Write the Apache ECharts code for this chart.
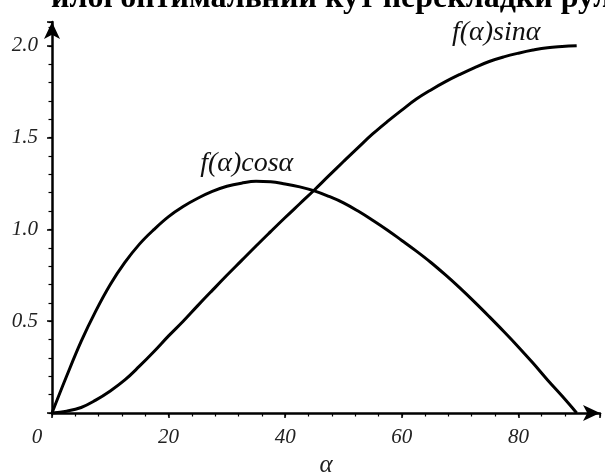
<!DOCTYPE html>
<html>
<head>
<meta charset="utf-8">
<script src="https://cdn.jsdelivr.net/npm/echarts@6/dist/echarts.min.js"></script>
<style>
  html, body { margin: 0; padding: 0; background: #fff; }
  #chart { width: 605px; height: 474px; }
</style>
</head>
<body>
<div id="chart"></div>
<script>
// α in degrees, read every 2.5°
const alpha = [0, 2.5, 5, 7.5, 10, 12.5, 15, 17.5, 20, 22.5, 25, 27.5, 30, 32.5, 35, 37.5, 40, 42.5, 45,
  47.5, 50, 52.5, 55, 57.5, 60, 62.5, 65, 67.5, 70, 72.5, 75, 77.5, 80, 82.5, 85, 87.5, 90];
const cosVals = [0, 0.20, 0.39, 0.555, 0.70, 0.82, 0.92, 1.0, 1.07, 1.125, 1.17, 1.207, 1.235, 1.252, 1.262, 1.26, 1.248, 1.232, 1.21,
  1.18, 1.145, 1.10, 1.05, 0.997, 0.94, 0.882, 0.82, 0.752, 0.68, 0.604, 0.525, 0.444, 0.36, 0.272, 0.18, 0.092, 0];
const sinVals = [0, 0.01, 0.03, 0.07, 0.12, 0.18, 0.255, 0.335, 0.42, 0.50, 0.585, 0.668, 0.75, 0.83, 0.91, 0.988, 1.065, 1.14, 1.215,
  1.293, 1.37, 1.446, 1.52, 1.587, 1.65, 1.71, 1.76, 1.805, 1.845, 1.882, 1.915, 1.94, 1.96, 1.977, 1.99, 1.996, 2.0];
const xTicks = [0, 20, 40, 60, 80];
const yTicks = [0.5, 1.0, 1.5, 2.0];

const serif = "Liberation Serif, Times New Roman, serif";
const chart = echarts.init(document.getElementById("chart"));

const pairs = (ys) => alpha.map((a, i) => [a, ys[i]]);

const labelStyle = {
  fontFamily: serif,
  fontStyle: "italic",
  fontSize: 21,
  color: "#222",
};

const curveLabel = (name, coord) => ({
  symbol: "circle",
  symbolSize: 0,
  itemStyle: { color: "transparent" },
  data: [{ name, coord }],
  label: {
    show: true,
    position: "inside",
    formatter: "{b}",
    fontFamily: serif,
    fontStyle: "italic",
    fontSize: 28,
    color: "#111",
  },
});

const option = {
  backgroundColor: "#fff",
  animation: false,
  title: {
    text: "илої оптимальний кут перекладки руля",
    left: 46,
    top: -22,
    textStyle: {
      fontFamily: serif,
      fontWeight: "bold",
      fontSize: 32,
      color: "#000",
    },
  },
  grid: { left: 52, right: 5, top: 22, bottom: 61, outerBoundsMode: "none" },
  xAxis: [
    {
      type: "value",
      min: 0,
      max: 94,
      interval: 20,
      position: "bottom",
      name: "α",
      nameLocation: "middle",
      nameGap: 38,
      nameTextStyle: { ...labelStyle, fontSize: 25 },
      axisLine: {
        lineStyle: { color: "#000", width: 2.5 },
        symbol: ["none", "arrow"],
        symbolSize: [12, 17],
      },
      axisTick: { length: 5, lineStyle: { color: "#000", width: 1.5 } },
      axisLabel: {
        ...labelStyle,
        margin: 14,
        formatter: (v) => {
          if (!xTicks.includes(v)) return "";
          return v === 0 ? "{z|0}" : String(v);
        },
        rich: { z: { ...labelStyle, padding: [0, 30, 0, 0] } },
      },
      splitLine: { show: false },
    },
    {
      type: "value",
      min: 0,
      max: 94,
      interval: 4,
      position: "bottom",
      axisLine: { show: false },
      axisTick: { length: 3.5, lineStyle: { color: "#000", width: 1.2 } },
      axisLabel: { show: false },
      splitLine: { show: false },
    },
  ],
  yAxis: [
    {
      type: "value",
      min: 0,
      max: 2.13,
      interval: 0.5,
      position: "left",
      axisLine: {
        show: true,
        lineStyle: { color: "#000", width: 2.5 },
        symbol: ["none", "arrow"],
        symbolSize: [12, 17],
      },
      axisTick: { show: true, length: 5, lineStyle: { color: "#000", width: 1.5 } },
      axisLabel: {
        ...labelStyle,
        margin: 14,
        formatter: (v) => (yTicks.some((t) => Math.abs(t - v) < 1e-9) ? v.toFixed(1) : ""),
      },
      splitLine: { show: false },
    },
    {
      type: "value",
      min: 0,
      max: 2.13,
      interval: 0.1,
      position: "left",
      axisLine: { show: false },
      axisTick: { show: true, length: 3.5, lineStyle: { color: "#000", width: 1.2 } },
      axisLabel: { show: false },
      splitLine: { show: false },
    },
  ],
  series: [
    {
      name: "f(α)cosα",
      type: "line",
      data: pairs(cosVals),
      smooth: 0.4,
      showSymbol: false,
      lineStyle: { color: "#000", width: 3 },
      markPoint: curveLabel("f(α)cosα", [33.4, 1.36]),
    },
    {
      name: "f(α)sinα",
      type: "line",
      data: pairs(sinVals),
      smooth: 0.4,
      showSymbol: false,
      lineStyle: { color: "#000", width: 3 },
      markPoint: curveLabel("f(α)sinα", [76.2, 2.07]),
    },
  ],
};

chart.setOption(option);
</script>
</body>
</html>
